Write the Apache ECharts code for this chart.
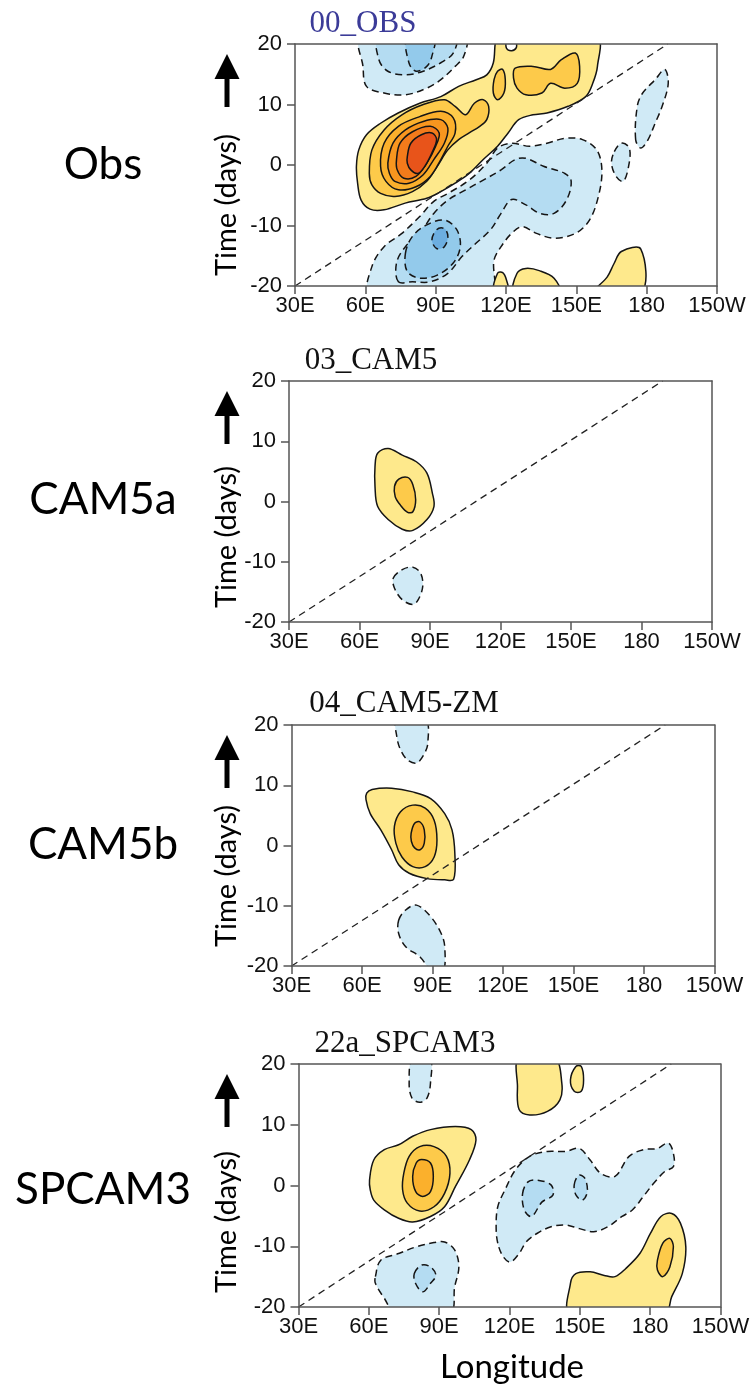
<!DOCTYPE html>
<html>
<head>
<meta charset="utf-8">
<script src="https://cdn.jsdelivr.net/npm/echarts@6/dist/echarts.min.js"></script>
<style>
html, body { margin: 0; padding: 0; background: #fff; }
#main { width: 755px; height: 1387px; }
</style>
</head>
<body>
<div id="main"></div>
<script>
// axis ticks
var lonTicks = [30, 60, 90, 120, 150, 180, 210]
var lonLabels = ['30E', '60E', '90E', '120E', '150E', '180', '150W']
var timeTicks = [-20, -10, 0, 10, 20]

var panelTitles = ['00_OBS', '03_CAM5', '04_CAM5-ZM', '22a_SPCAM3']
var rowNames = ['Obs', 'CAM5a', 'CAM5b', 'SPCAM3']

// 5 m/s reference phase line (lon, days)
var phaseLine = [[30, -20], [189, 20]]

// contour regions: [level, [[lon, day], ...]]  (negative level = dashed)
var obsShapes = [
  [-1, [[58.2, 21], [59, 16.3], [60.5, 13], [68, 11.9], [77.1, 11.6], [86.2, 12.7], [92.2, 14.1], [98.3, 16.3], [102, 18], [102.5, 21]]],
  [-2, [[65.8, 21], [65.8, 17.4], [69.6, 15.5], [77.1, 14.9], [84.7, 15.5], [92.2, 16.9], [97.5, 18.5], [98.3, 21]]],
  [-3, [[77.9, 21], [78.6, 16.9], [81.6, 15.5], [86.2, 16.3], [88.4, 18], [89.2, 21]]],
  [-1, [[62, -21], [62.8, -16.8], [68, -13.5], [75.6, -11.3], [83.2, -8.5], [89.2, -6], [95.2, -4.7], [104.3, -2.5], [111.8, 0.3], [116.4, 2.8], [122.4, 3.6], [130, 3.1], [137.5, 3.6], [145.1, 4.4], [152.6, 4.2], [158.7, 2.5], [160.9, -0.8], [159.4, -5.2], [155.6, -9.1], [149.6, -11.3], [140.5, -12.1], [133, -11.3], [126.9, -10.2], [122.4, -11.3], [117.9, -13.5], [114.9, -15.7], [113.4, -21]]],
  [-2, [[74.1, -19.3], [73.3, -16.2], [77.1, -13.5], [83.2, -11.3], [89.2, -8], [95.2, -5.8], [102.8, -4.1], [110.3, -2.5], [117.9, -0.8], [123.9, 0.9], [128.5, 1.1], [136, -0.2], [145.1, -1.4], [147.8, -2.7], [145.8, -5.8], [140.5, -8], [134.5, -8], [128.5, -6.6], [122.4, -5.7], [117.9, -8], [113.4, -10.7], [107.3, -12.9], [101.3, -15.1], [95.2, -17.9], [87.7, -19.3], [80.1, -19.3]]],
  [-3, [[77.1, -14.6], [80.1, -11.8], [86.2, -9.9], [93.7, -9.1], [99, -10.7], [100.5, -13.5], [97.5, -16.2], [90.7, -18.2], [83.2, -18.7], [77.9, -17.6]]],
  [-4, [[88.4, -12.4], [90.4, -10.7], [93.7, -10.5], [95.2, -11.8], [93.7, -13.5], [90.4, -13.8]]],
  [-1, [[175.3, 4.2], [176, 9.7], [178.3, 11.9], [183.6, 14.1], [187.7, 15.8], [189.2, 13.5], [186.6, 9.7], [183.6, 6.9], [180.6, 4.2], [177.5, 2.8]]],
  [-1, [[166.2, 2.2], [169.2, 3.6], [172.6, 2.8], [172.3, -0.2], [170, -2.7], [167, -1.9], [165, 0.3]]],
  [1, [[116, 21], [119.5, 21], [120.2, 19.3], [122.4, 18.9], [124.4, 19.4], [125, 21], [158.7, 21], [159, 16.3], [157, 13.5], [154, 11.3], [146.5, 9.7], [137.5, 8.6], [131.5, 8.3], [125.4, 7.5], [120.9, 5.3], [116.4, 3.1], [110.3, 0.9], [104.3, -1.4], [98.3, -3], [92.2, -4.4], [86.2, -5.5], [77, -6.3], [68, -7.4], [62, -7.3], [58.2, -5.8], [56.7, -3], [56.2, -0.2], [57.2, 2.5], [60.5, 5], [66.5, 6.9], [74, 8.6], [83.2, 10.2], [92.2, 11.3], [99.8, 13], [107.3, 14.1], [111.8, 14.9], [114.6, 16.9]]],
  [1, [[114.9, -21], [116.4, -17.9], [118.6, -17.8], [120.2, -19], [120.9, -21]]],
  [1, [[123.6, -21], [124.7, -17.9], [128.5, -17.1], [134.5, -17.5], [140.5, -18.7], [142.8, -21]]],
  [1, [[157.9, -21], [163.2, -18.5], [166.2, -16.2], [169.2, -14.3], [177.5, -13.9], [177.8, -21]]],
  [2, [[61.7, -1.4], [62.8, 2.5], [68, 5.8], [75.6, 8.3], [84.7, 10], [93.7, 10.8], [98.3, 9.7], [102.8, 8.3], [106.5, 10.2], [110.3, 10.8], [112.6, 9.7], [111.8, 7.5], [108.8, 6.4], [104.3, 5.3], [99.8, 4.2], [95.2, 2.5], [90.7, -0.2], [86.2, -2.7], [80.1, -4.4], [72.6, -5.2], [66.5, -4.7], [62.8, -3.3]]],
  [2, [[116.4, 15.5], [118.6, 15.8], [119.7, 14.1], [119.1, 11.9], [116.4, 10.8], [114.6, 11.9], [114.9, 14.1]]],
  [2, [[123.9, 16], [131.5, 16.3], [139, 15.8], [143.6, 17.4], [149.6, 18.5], [151.4, 16.3], [150.4, 13.5], [145.1, 12.7], [139, 13.5], [135.3, 11.9], [128.5, 11.6], [124.7, 12.7], [123.2, 14.4]]],
  [3, [[66.5, -0.2], [68, 3.6], [74.1, 6.4], [83.2, 8], [92.2, 8.9], [97.5, 7.8], [98.3, 5.3], [95.2, 3.1], [92.2, 0.9], [87.7, -1.9], [81.6, -3.6], [74.1, -4.1], [68.8, -2.7]]],
  [4, [[69.6, 0.3], [71.8, 3.6], [77.1, 5.8], [84.7, 7.2], [92.2, 7.5], [95.2, 6.1], [93.7, 3.6], [89.2, 0.9], [84.7, -1.6], [78.6, -3], [72.6, -2.7], [70.3, -1.4]]],
  [5, [[73.3, 0.9], [74.8, 3.6], [80.1, 5.5], [87.7, 6.4], [91.5, 5.3], [90, 3.1], [86.2, 0.3], [81.6, -1.9], [76.4, -2.2], [73.6, -0.8]]],
  [6, [[77.9, 1.4], [79.4, 3.6], [83.9, 5], [88.4, 5.3], [90.4, 4.2], [88.4, 2], [85.4, -0.2], [82.4, -1.4], [79.4, -0.8], [77.9, 0.3]]]
]

var cam5aShapes = [
  [-1, [[74.4, -12.7], [78.2, -11.3], [82.7, -10.9], [86, -11.9], [86.9, -14.1], [85, -16.3], [82.7, -17.1], [78.2, -16.3], [74.9, -14.4]]],
  [1, [[67.7, 8], [72.2, 8.8], [78.2, 7.7], [84.2, 6.6], [88.7, 4.7], [91, 1.4], [91.7, -0.8], [88.7, -3], [82.7, -4.8], [78.2, -4.6], [72.2, -3], [67.7, -0.8], [66.6, 2.5], [66.6, 5.8]]],
  [2, [[74.9, 2.5], [76.7, 3.7], [80.5, 4], [82.7, 2.8], [83.9, 0.3], [82.7, -1.7], [80.5, -1.8], [77.4, -0.6], [75.2, 0.8]]]
]

var cam5bShapes = [
  [-1, [[74.8, 21], [74.8, 18.1], [76.4, 15.9], [79.4, 14.2], [83.2, 13.7], [86.2, 15], [88, 17], [86.9, 21]]],
  [-1, [[75.6, -12.4], [78.6, -10.7], [83.2, -9.9], [89.2, -11.8], [93.7, -14.6], [95.2, -16.8], [94.5, -21], [90, -21], [84.7, -18.5], [78.6, -16.8], [75.6, -14.6]]],
  [1, [[62, 8.7], [64.3, 9.3], [72.6, 9.5], [81.6, 8.9], [89.2, 7.8], [95.2, 5.3], [98.3, 2.6], [99.5, -1.3], [99, -5.6], [95.2, -5.7], [87.7, -5.5], [80.1, -4.6], [75.6, -3.2], [72.6, -0.7], [68, 2.6], [63.5, 5.3], [61.7, 7.6]]],
  [2, [[73.8, 3.2], [76.4, 5.6], [81.6, 6.7], [86.9, 6.2], [90.7, 4.2], [91.9, 0.9], [90.7, -1.9], [86.9, -3.5], [81.6, -3.5], [77, -1.9], [74.4, 0.4]]],
  [3, [[80.9, 2], [82.4, 3.7], [84.7, 3.9], [86.5, 2.6], [86.5, 0.4], [84.7, -0.7], [82.4, -0.4], [81, 0.7]]]
]

var spcamShapes = [
  [-1, [[78.7, 21], [77.2, 16.9], [78.4, 14.4], [81.7, 13.7], [84.8, 14.4], [86.3, 16.9], [86, 21]]],
  [-1, [[115, -9.5], [114.3, -6.8], [115, -3.5], [118.1, -0.7], [122.6, 2.6], [128.6, 4.8], [136.2, 5.6], [143.8, 5.6], [149.8, 6.1], [154.4, 4.2], [158.9, 2], [165, 1.5], [171, 4.8], [177.1, 5.9], [183.1, 6.1], [187.7, 7], [189.9, 5.3], [189.9, 3.1], [186.2, 2.3], [181.6, 0.4], [177.1, -1.8], [172.5, -4], [168, -5.1], [161.9, -6.8], [155.9, -7.6], [149.8, -7.1], [143.8, -6.5], [137.7, -6.8], [131.7, -7.9], [127.1, -9.3], [124.1, -11.2], [120.3, -12.6], [117.3, -11.7]]],
  [-1, [[62.8, -15], [65.1, -12.3], [72.7, -11.2], [80.2, -10.1], [87.8, -9.4], [92.3, -9.3], [96.6, -10.6], [98.4, -13.4], [96.6, -16.7], [94.6, -21], [71.5, -21], [66.5, -18.5], [62.8, -16.1]]],
  [-2, [[125.6, -1.3], [127.9, 0.6], [131.7, 0.9], [137.7, 0.1], [138.5, -1.6], [133.9, -2.7], [129.4, -5.1], [126.3, -4]]],
  [-2, [[147.6, 0.1], [149.6, 1.7], [152.1, 1.2], [153.2, -1], [151.1, -2.4], [148.4, -1.6]]],
  [-2, [[79.4, -14.5], [82.5, -13.1], [86.3, -13.4], [88.6, -14.8], [86.3, -16.1], [83, -17.5], [79.9, -16.1]]],
  [1, [[124.1, 21], [123.4, 16.3], [124.1, 12.5], [128.6, 11.6], [136.2, 12.2], [141.5, 14.1], [142.3, 16.9], [139.2, 21]]],
  [1, [[148.3, 19.6], [146, 17.4], [147.6, 15.5], [150.6, 15.5], [151.6, 17.4], [150.6, 19.6]]],
  [1, [[60.3, 0.9], [62.1, 4.2], [66.6, 5.9], [72.7, 6.7], [78.7, 8.1], [86.3, 9.2], [96.9, 9.7], [103.7, 9.2], [105.7, 7.5], [102.9, 4.2], [96.9, -0.2], [92.3, -3.5], [86.3, -5.1], [78.7, -6], [72.7, -5.4], [66.6, -4], [62.1, -2.4], [60.6, -0.7]]],
  [1, [[146, -21], [146, -16.1], [148.3, -14.5], [154.4, -14.2], [160.4, -14.8], [165, -15], [169.5, -13.7], [175.6, -11.2], [180.1, -7.9], [184.6, -5.1], [189.2, -4.6], [192.9, -6.2], [195.2, -10.1], [193.7, -14.5], [189.2, -18.3], [186.2, -21]]],
  [2, [[74.9, 2], [77.2, 4.8], [81.7, 6.4], [87.8, 6.4], [93.1, 4.8], [94.6, 2], [92.3, -1.3], [87.8, -3.5], [81.7, -4.2], [76.4, -2.9], [74.4, -0.7]]],
  [2, [[183.1, -12.3], [185.4, -9.5], [188.4, -8.7], [189.9, -10.1], [188.4, -13.4], [185.4, -15], [183.1, -13.9]]],
  [3, [[78.7, 1.5], [80.2, 3.7], [82.5, 4.3], [86.3, 3.7], [87.5, 1.5], [86.3, -1], [83, -1.8], [80, -1]]]
]

var panelShapes = [obsShapes, cam5aShapes, cam5bShapes, spcamShapes]

var levelColors = {
  '-4': '#6caee0', '-3': '#93caeb', '-2': '#b4dcf2', '-1': '#d0eaf6',
  '1': '#fee98c', '2': '#fdca4a', '3': '#fbb02c', '4': '#f8961f', '5': '#f37b1b', '6': '#e8541a'
}

// panel placement in the page (pixels)
var grids = [
  { left: 295, top: 44, width: 422, height: 242 },
  { left: 289, top: 381, width: 423, height: 241 },
  { left: 291.5, top: 725, width: 423, height: 241 },
  { left: 298.5, top: 1064, width: 422, height: 243 }
]
var titleCenters = [[363, 24], [371, 361], [404, 704], [405, 1044]]
var rowNameY = [165, 500, 845, 1190]
var timeLabelY = [205, 537, 876, 1222]

var myChart = echarts.init(document.getElementById('main'), null, { renderer: 'canvas' })

var axisColor = '#555'
var xAxes = []
var yAxes = []
var series = []
var graphics = []

grids.forEach(function (g, p) {
  xAxes.push({
    gridIndex: p, type: 'value', min: 30, max: 210, interval: 30, position: 'bottom', z: 10,
    axisLine: { show: true, onZero: false, lineStyle: { color: axisColor, width: 1.5 } },
    axisTick: { show: true, length: 8, lineStyle: { color: axisColor, width: 1.5 } },
    axisLabel: {
      margin: 9, color: '#111', fontSize: 22, fontFamily: 'Liberation Sans',
      showMinLabel: true, showMaxLabel: true, hideOverlap: false,
      formatter: function (v) { return lonLabels[lonTicks.indexOf(v)] }
    },
    splitLine: { show: false }
  })
  xAxes.push({
    gridIndex: p, type: 'value', min: 30, max: 210, position: 'top', z: 10,
    axisLine: { show: true, onZero: false, lineStyle: { color: axisColor, width: 1.5 } },
    axisTick: { show: false }, axisLabel: { show: false }, splitLine: { show: false }
  })
  yAxes.push({
    gridIndex: p, type: 'value', min: timeTicks[0], max: timeTicks[timeTicks.length - 1], interval: 10, position: 'left', z: 10,
    axisLine: { show: true, onZero: false, lineStyle: { color: axisColor, width: 1.5 } },
    axisTick: { show: true, length: 8, lineStyle: { color: axisColor, width: 1.5 } },
    axisLabel: { margin: 13, color: '#111', fontSize: 22, fontFamily: 'Liberation Sans', showMinLabel: true, showMaxLabel: true },
    splitLine: { show: false }
  })
  yAxes.push({
    gridIndex: p, type: 'value', min: -20, max: 20, position: 'right', z: 10,
    axisLine: { show: true, onZero: false, lineStyle: { color: axisColor, width: 1.5 } },
    axisTick: { show: false }, axisLabel: { show: false }, splitLine: { show: false }
  })

  // contours, lowest magnitude first
  var shapes = panelShapes[p].slice().sort(function (a, b) { return Math.abs(a[0]) - Math.abs(b[0]) })
  series.push({
    type: 'custom',
    xAxisIndex: 2 * p,
    yAxisIndex: 2 * p,
    clip: true,
    silent: true,
    z: 2,
    data: shapes.map(function (s) { return s[1][0] }),
    renderItem: function (params, api) {
      var s = shapes[params.dataIndex]
      var pts = s[1].map(function (pt) { return api.coord(pt) })
      var cs = params.coordSys
      return {
        type: 'group',
        clipPath: { type: 'rect', shape: { x: cs.x, y: cs.y, width: cs.width, height: cs.height } },
        children: [{
          type: 'polygon',
          shape: { points: pts, smooth: 0.35 },
          style: {
            fill: levelColors[String(s[0])],
            stroke: '#151515',
            lineWidth: 1.5,
            lineDash: s[0] < 0 ? [7, 4.5] : null
          }
        }]
      }
    }
  })

  series.push({
    type: 'line',
    xAxisIndex: 2 * p,
    yAxisIndex: 2 * p,
    data: phaseLine,
    symbol: 'none',
    silent: true,
    z: 5,
    lineStyle: { color: '#222', width: 1.3, type: [7, 5] }
  })

  graphics.push({
    type: 'text', x: titleCenters[p][0], y: titleCenters[p][1],
    style: {
      text: panelTitles[p], fill: p === 0 ? '#3b3b98' : '#111',
      font: '31px "Liberation Serif"', textAlign: 'center', textVerticalAlign: 'middle'
    }
  })
  graphics.push({
    type: 'text', x: 103, y: rowNameY[p],
    style: { text: rowNames[p], fill: '#000', font: '44px Lato', textAlign: 'center', textVerticalAlign: 'middle' }
  })
  graphics.push({
    type: 'text', x: 227, y: timeLabelY[p], rotation: Math.PI / 2,
    style: { text: 'Time (days)', fill: '#000', font: '29px Lato', textAlign: 'center', textVerticalAlign: 'middle' }
  })
  var t = g.top
  graphics.push({
    type: 'polygon',
    shape: { points: [[227, t + 10], [239.5, t + 35], [214.5, t + 35]] },
    style: { fill: '#000' }
  })
  graphics.push({
    type: 'rect',
    shape: { x: 224.5, y: t + 34, width: 5, height: 29 },
    style: { fill: '#000' }
  })
})

graphics.push({
  type: 'text', x: 512, y: 1367,
  style: { text: 'Longitude', fill: '#000', font: '33px Lato', textAlign: 'center', textVerticalAlign: 'middle' }
})

var option = {
  backgroundColor: '#fff',
  animation: false,
  grid: grids.map(function (g) { return { left: g.left, top: g.top, width: g.width, height: g.height, show: false } }),
  xAxis: xAxes,
  yAxis: yAxes,
  series: series,
  graphic: graphics
}

myChart.setOption(option, true)
</script>
</body>
</html>
